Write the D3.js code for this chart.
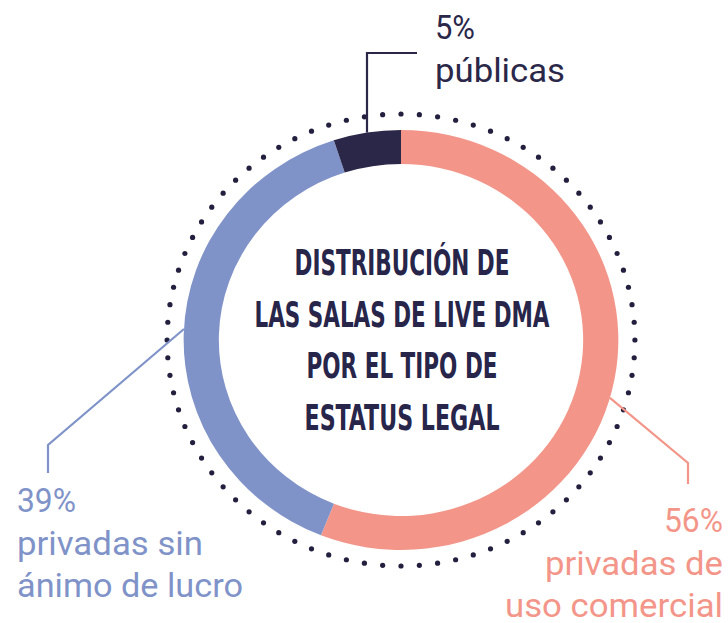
<!DOCTYPE html>
<html>
<head>
<meta charset="utf-8">
<script src="https://cdn.jsdelivr.net/npm/d3@7"></script>
<style>
  body { margin: 0; background: #fff; }
  svg { display: block; }
</style>
</head>
<body>
<svg id="chart" width="728" height="623"></svg>
<script>
// data
var categories = ["privadas de uso comercial", "privadas sin ánimo de lucro", "públicas"];
var shares = [56, 39, 5];
var pctLabels = ["56%", "39%", "5%"];
var nameLines = [["privadas de", "uso comercial"], ["privadas sin", "ánimo de lucro"], ["públicas"]];
var titleLines = ["DISTRIBUCIÓN DE", "LAS SALAS DE LIVE DMA", "POR EL TIPO DE", "ESTATUS LEGAL"];

var colors = ["#f39689", "#8093c9", "#2a2749"];

var svg = d3.select("#chart"),
    cx = 401, cy = 340,
    sx = 1.035, // picture is a touch wider than tall
    rOuter = 210, rInner = 176, rDots = 226;

var pie = d3.pie().sort(null).value(function (d) { return d; });
var arcs = pie(shares);
var arc = d3.arc().innerRadius(rInner).outerRadius(rOuter);

var ring = svg.append("g")
    .attr("transform", "translate(" + cx + "," + cy + ") scale(" + sx + ",1)");

ring.selectAll("path")
  .data(arcs)
  .enter().append("path")
    .attr("d", arc)
    .attr("fill", function (d, i) { return colors[i]; });

// dotted ring
var nDots = 80;
svg.append("g").selectAll("circle")
  .data(d3.range(nDots))
  .enter().append("circle")
    .attr("cx", function (i) { return cx + sx * rDots * Math.sin(i / nDots * 2 * Math.PI); })
    .attr("cy", function (i) { return cy - rDots * Math.cos(i / nDots * 2 * Math.PI); })
    .attr("r", 2.6)
    .attr("fill", "#23203f");

// leaders + labels (angle in degrees where the leader leaves the ring)
var labelLayout = [
  { ang: 106, elbow: [688, 463], end: [688, 484], x: 723, y: 532, anchor: "end", widths: [59, 178, 218] },
  { ang: 273, elbow: [48, 445],  end: [48, 473],  x: 17,  y: 512, anchor: "start", widths: [59, 186, 226] },
  { ang: 351, elbow: [null, 53], end: [417, 53],  x: 435, y: 39,  anchor: "start", widths: [40, 130] }
];

function ringPoint(deg) {
  var a = deg * Math.PI / 180;
  return [cx + sx * rOuter * Math.sin(a), cy - rOuter * Math.cos(a)];
}

labelLayout.forEach(function (L, i) {
  var p0 = ringPoint(L.ang);
  var elbow = [L.elbow[0] == null ? p0[0] : L.elbow[0], L.elbow[1]];
  svg.append("path")
    .attr("d", d3.line()([p0, elbow, L.end]))
    .attr("fill", "none")
    .attr("stroke", colors[i])
    .attr("stroke-width", 2.2);

  var lines = [pctLabels[i]].concat(nameLines[i]);
  var t = svg.append("g");
  lines.forEach(function (s, j) {
    t.append("text")
      .attr("x", L.x)
      .attr("y", L.y + j * 42.5)
      .attr("text-anchor", L.anchor)
      .attr("font-family", "Roboto, 'DejaVu Sans', sans-serif")
      .attr("font-size", 34)
      .attr("fill", colors[i])
      .attr("textLength", L.widths[j])
      .attr("lengthAdjust", "spacingAndGlyphs")
      .text(s);
  });
});

// center title
var titleWidths = [215, 295, 191, 195];
svg.append("g").selectAll("text")
  .data(titleLines)
  .enter().append("text")
    .attr("x", 402)
    .attr("y", function (d, i) { return 275 + i * 51.6; })
    .attr("text-anchor", "middle")
    .attr("font-family", "'Liberation Sans Narrow', 'DejaVu Sans Condensed', sans-serif")
    .attr("font-weight", "bold")
    .attr("font-size", 35)
    .attr("fill", "#27254a")
    .attr("textLength", function (d, i) { return titleWidths[i]; })
    .attr("lengthAdjust", "spacingAndGlyphs")
    .text(function (d) { return d; });
</script>
</body>
</html>
